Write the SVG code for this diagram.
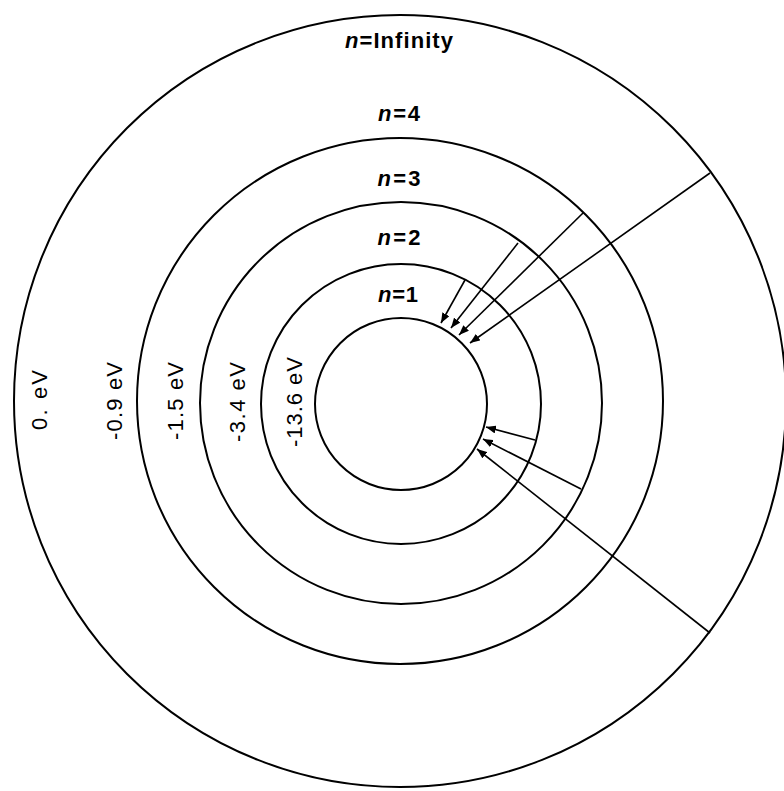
<svg xmlns="http://www.w3.org/2000/svg" width="784" height="791" viewBox="0 0 784 791">
<style>
.orbit{fill:none;stroke:#000;stroke-width:2}
.conn line{stroke:#000;stroke-width:1.6;marker-end:url(#ah)}
.nl{font-family:"Liberation Sans",Arial,sans-serif;font-weight:bold;font-size:22px;fill:#000;text-anchor:middle}
.nl tspan.i{font-style:italic}
.el{font-family:"Liberation Sans",Arial,sans-serif;font-size:22px;fill:#000;text-anchor:middle}
</style>
<defs>
<marker id="ah" markerUnits="userSpaceOnUse" markerWidth="10" markerHeight="8" refX="10" refY="4" orient="auto">
<path d="M0,0 L10,4 L0,8 z" fill="#000"/>
</marker>
</defs>
<rect width="784" height="791" fill="#fff"/>
<g id="orbit-inf"><circle class="orbit" cx="400" cy="401" r="386"/>
<text class="nl" x="399" y="48" textLength="108" lengthAdjust="spacing"><tspan class="i">n</tspan>=Infinity</text>
<text class="el" transform="translate(47,400) rotate(-90)" textLength="60" lengthAdjust="spacing">0. eV</text></g>
<g id="orbit-4"><circle class="orbit" cx="400" cy="401" r="263"/>
<text class="nl" x="399" y="121" textLength="42" lengthAdjust="spacing"><tspan class="i">n</tspan>=4</text>
<text class="el" transform="translate(122,401) rotate(-90)" textLength="78" lengthAdjust="spacing">-0.9 eV</text></g>
<g id="orbit-3"><circle class="orbit" cx="401" cy="403" r="201"/>
<text class="nl" x="399" y="186" textLength="43" lengthAdjust="spacing"><tspan class="i">n</tspan>=3</text>
<text class="el" transform="translate(183,401) rotate(-90)" textLength="78" lengthAdjust="spacing">-1.5 eV</text></g>
<g id="orbit-2"><circle class="orbit" cx="401" cy="404" r="140"/>
<text class="nl" x="399" y="245" textLength="43" lengthAdjust="spacing"><tspan class="i">n</tspan>=2</text>
<text class="el" transform="translate(245,402) rotate(-90)" textLength="80" lengthAdjust="spacing">-3.4 eV</text></g>
<g id="orbit-1"><circle class="orbit" cx="401" cy="404" r="86"/>
<text class="nl" x="398" y="302" textLength="40" lengthAdjust="spacing"><tspan class="i">n</tspan>=1</text>
<text class="el" transform="translate(302,402) rotate(-90)" textLength="90" lengthAdjust="spacing">-13.6 eV</text></g>
<g id="connectors" class="conn">
<line x1="465" y1="280" x2="441" y2="323"/>
<line x1="518" y1="243" x2="451" y2="328"/>
<line x1="583" y1="213" x2="459" y2="335"/>
<line x1="710" y1="173" x2="470" y2="343"/>
<line x1="535" y1="440" x2="486" y2="427"/>
<line x1="581" y1="489" x2="483" y2="439"/>
<line x1="710" y1="633" x2="477" y2="449"/>
</g>
</svg>
